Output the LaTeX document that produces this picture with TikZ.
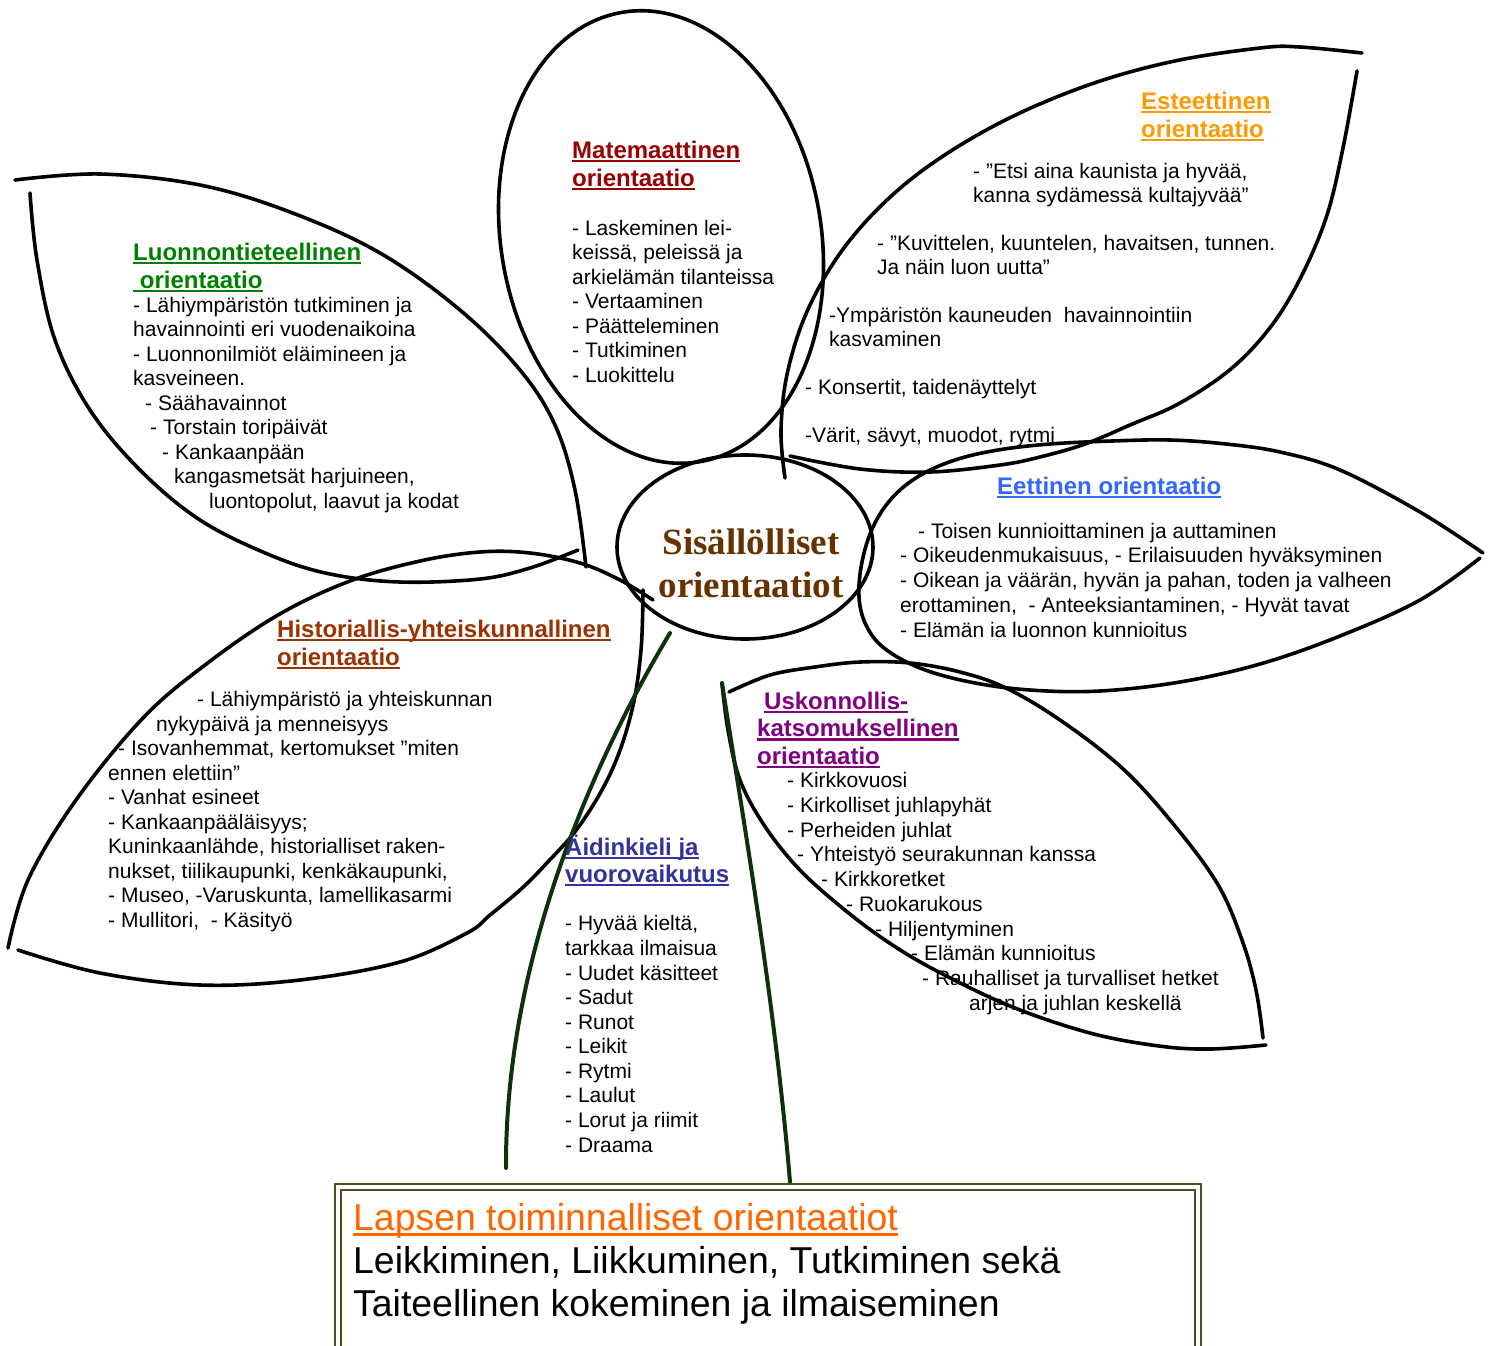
\documentclass[tikz,border=0pt]{standalone}
\usepackage{fontspec}
\setmainfont{Liberation Sans}
\newfontfamily\centerserif{Liberation Serif}
\usetikzlibrary{shapes.geometric}
\definecolor{tgreen}{HTML}{008000}
\definecolor{tred}{HTML}{990000}
\definecolor{torange}{HTML}{FF9900}
\definecolor{tblue}{HTML}{3366FF}
\definecolor{tbrown}{HTML}{993300}
\definecolor{tpurple}{HTML}{800080}
\definecolor{tnavy}{HTML}{333399}
\definecolor{cbrown}{HTML}{663300}
\definecolor{lorange}{HTML}{FF6600}
\definecolor{boxolive}{HTML}{4F4F1F}
\definecolor{stemgreen}{HTML}{0A330A}
\newcommand\myul[1]{\setbox0=\hbox{#1}\rlap{\rule[-4pt]{\wd0}{2.4pt}}\box0}
\newcommand\bigul[1]{\setbox0=\hbox{#1}\rlap{\rule[-5.5pt]{\wd0}{3pt}}\box0}
\tikzset{
  leaf/.style={draw=black, line width=3.6pt, line cap=round},
  stem/.style={draw=stemgreen, line width=4pt, line cap=round},
  boxline/.style={draw=boxolive, line width=2.5pt, double=white, double distance=3.5pt},
  body/.style={anchor=base west, align=left, inner sep=0pt, font=\fontsize{21}{24.5}\selectfont},
  ttl/.style={anchor=base west, align=left, inner sep=0pt, font=\fontsize{24}{28}\selectfont\bfseries},
}
\begin{document}
\begin{tikzpicture}[x=1pt,y=-1pt]
\useasboundingbox (0,0) rectangle (1492,1345);
\clip (0,0) rectangle (1492,1345);
\fill[white] (0,0) rectangle (1492,1345);

% leaf 1 (Luonnontieteellinen)
\draw[leaf] plot[smooth, tension=0.6] coordinates {(15,180) (100,174) (200,185) (290,212) (380,253) (460,310) (520,370) (555,425) (575,490) (586,567)};
\draw[leaf] plot[smooth, tension=0.6] coordinates {(30,193) (37,260) (55,340) (90,410) (140,470) (200,520) (270,555) (330,574) (400,582) (480,579) (530,568) (578,550)};
% leaf 2 (Historiallis)
\draw[leaf] plot[smooth, tension=0.6] coordinates {(8,948) (28,880) (76,800) (143,718) (205,665) (278,615) (350,581) (420,561) (480,552) (530,553) (580,563) (620,580) (653,600)};
\draw[leaf] plot[smooth, tension=0.6] coordinates {(643,590) (641,650) (632,710) (612,770) (580,825) (545,865) (520,890) (490,915) (467,933) (400,962) (300,980) (200,985) (100,973) (18,950)};
% Matemaattinen ellipse
\draw[leaf, rotate around={10:(661,237)}] (661,237) ellipse [x radius=160, y radius=228];
% Esteettinen
\draw[leaf] plot[smooth, tension=0.6] coordinates {(785,478) (781,430) (788,370) (810,305) (850,240) (910,180) (990,128) (1080,88) (1170,62) (1260,48) (1300,47) (1362,53)};
\draw[leaf] plot[smooth, tension=0.6] coordinates {(1357,71) (1343,148) (1327,215) (1302,275) (1272,325) (1232,368) (1180,403) (1130,425) (1085,444) (1040,457) (1000,465) (930,472) (860,469) (790,456)};
% Eettinen
\draw[leaf] plot[smooth, tension=0.6] coordinates {(1483,553) (1420,512) (1340,470) (1280,452) (1226,444) (1170,440) (1112,441) (1050,444) (998,450) (955,460) (919,476) (892,498) (873,527) (862,562) (859,597) (866,625) (884,648) (920,668) (970,682) (1030,690) (1100,691) (1180,682) (1260,664) (1340,636) (1420,600) (1480,558)};
% Uskonnollis
\draw[leaf] plot[smooth, tension=0.6] coordinates {(729,692) (770,675) (815,667) (860,662) (910,663) (960,672) (1006,688) (1060,720) (1121,767) (1170,820) (1217,883) (1242,940) (1256,990) (1263,1038)};
\draw[leaf] plot[smooth, tension=0.6] coordinates {(722,683) (728,730) (740,780) (764,825) (798,868) (840,906) (885,940) (935,970) (1010,1006) (1090,1033) (1159,1046) (1210,1049) (1266,1045)};

% centre
\node[draw, ellipse, line width=3.6pt, minimum width=256, minimum height=184, inner sep=0pt] (ctr) at (745,547) {};
\node[anchor=base, align=center, inner sep=0pt, text=cbrown, font=\centerserif\bfseries\fontsize{37}{43}\selectfont] (ctrtxt) at (751,597) {Sisällölliset\\orientaatiot};

% stems
\coordinate (stemLa) at (670,633);
\coordinate (stemLb) at (506,1168);
\coordinate (stemRa) at (722,683);
\coordinate (stemRb) at (790,1182);
\draw[stem] (stemLa) .. controls (600,750) and (505,950) .. (stemLb);
\draw[stem] (stemRa) .. controls (740,800) and (775,1000) .. (stemRb);

% bottom box
\draw[boxline] (338,1187) rectangle (1198,1400);
\node[anchor=base west, align=left, inner sep=0pt, font=\fontsize{37.4}{43}\selectfont] (box) at (353,1316) {\textcolor{lorange}{\bigul{Lapsen toiminnalliset orientaatiot}}\\Leikkiminen, Liikkuminen, Tutkiminen sekä\\Taiteellinen kokeminen ja ilmaiseminen};

% texts (anchor = baseline of the last line)
\node[ttl, text=tgreen] (t1) at (133,288) {\myul{Luonnontieteellinen}\\\myul{~orientaatio}};
\node[body] (b1) at (133,508) {- Lähiympäristön tutkiminen ja\\havainnointi eri vuodenaikoina\\- Luonnonilmiöt eläimineen ja\\kasveineen.\\\hspace*{12pt}- Säähavainnot\\\hspace*{17pt}- Torstain toripäivät\\\hspace*{29pt}- Kankaanpään\\\hspace*{41pt}kangasmetsät harjuineen,\\\hspace*{76pt}luontopolut, laavut ja kodat};

\node[ttl, text=tred] (t2) at (572,186) {\myul{Matemaattinen}\\\myul{orientaatio}};
\node[body] (b2) at (572,382) {- Laskeminen lei-\\keissä, peleissä ja\\arkielämän tilanteissa\\- Vertaaminen\\- Päätteleminen\\- Tutkiminen\\- Luokittelu};

\node[ttl, text=torange] (t3) at (1141,137) {\myul{Esteettinen}\\\myul{orientaatio}};
\node[body, font=\fontsize{21}{24}\selectfont] (b3) at (805,442) {\hspace*{168pt}- ”Etsi aina kaunista ja hyvää,\\\hspace*{168pt}kanna sydämessä kultajyvää”\\[24pt]\hspace*{72pt}- ”Kuvittelen, kuuntelen, havaitsen, tunnen.\\\hspace*{72pt}Ja näin luon uutta”\\[24pt]\hspace*{24pt}-Ympäristön kauneuden\ \ havainnointiin\\\hspace*{24pt}kasvaminen\\[24pt]- Konsertit, taidenäyttelyt\\[24pt]-Värit, sävyt, muodot, rytmi};

\node[ttl, text=tblue] (t4) at (997,494) {\myul{Eettinen orientaatio}};
\node[body, font=\fontsize{21}{24.75}\selectfont] (b4) at (900,637) {\hspace*{18pt}- Toisen kunnioittaminen ja auttaminen\\- Oikeudenmukaisuus, - Erilaisuuden hyväksyminen\\- Oikean ja väärän, hyvän ja pahan, toden ja valheen\\erottaminen,\ \ - Anteeksiantaminen, - Hyvät tavat\\- Elämän ia luonnon kunnioitus};

\node[ttl, text=tbrown] (t5) at (277,665) {\myul{Historiallis-yhteiskunnallinen}\\\myul{orientaatio}};
\node[body, font=\fontsize{21}{24.45}\selectfont] (b5) at (108,927) {\hspace*{89pt}- Lähiympäristö ja yhteiskunnan\\\hspace*{48pt}nykypäivä ja menneisyys\\\hspace*{10pt}- Isovanhemmat, kertomukset ”miten\\ennen elettiin”\\- Vanhat esineet\\- Kankaanpääläisyys;\\Kuninkaanlähde, historialliset raken-\\nukset, tiilikaupunki, kenkäkaupunki,\\- Museo, -Varuskunta, lamellikasarmi\\- Mullitori,\ \ - Käsityö};

\node[ttl, text=tpurple, font=\fontsize{24}{27.5}\selectfont\bfseries] (t6) at (757,764) {\hspace*{7pt}\myul{Uskonnollis-}\\\myul{katsomuksellinen}\\\myul{orientaatio}};
\node[body, font=\fontsize{21}{24.67}\selectfont] (b6) at (787,1010) {- Kirkkovuosi\\- Kirkolliset juhlapyhät\\- Perheiden juhlat\\\hspace*{10pt}- Yhteistyö seurakunnan kanssa\\\hspace*{34pt}- Kirkkoretket\\\hspace*{59pt}- Ruokarukous\\\hspace*{88pt}- Hiljentyminen\\\hspace*{124pt}- Elämän kunnioitus\\\hspace*{135pt}- Rauhalliset ja turvalliset hetket\\\hspace*{182pt}arjen ja juhlan keskellä};

\node[ttl, text=tnavy, font=\fontsize{24}{27}\selectfont\bfseries] (t7) at (565,882) {\myul{Äidinkieli ja}\\\myul{vuorovaikutus}};
\node[body, font=\fontsize{21}{24.56}\selectfont] (b7) at (565,1152) {- Hyvää kieltä,\\tarkkaa ilmaisua\\- Uudet käsitteet\\- Sadut\\- Runot\\- Leikit\\- Rytmi\\- Laulut\\- Lorut ja riimit\\- Draama};
\end{tikzpicture}
\end{document}
